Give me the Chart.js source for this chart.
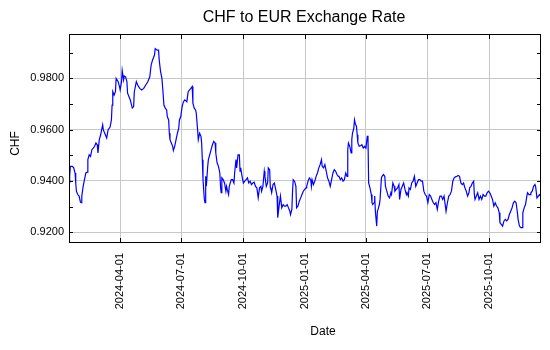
<!DOCTYPE html>
<html>
<head>
<meta charset="utf-8">
<title>CHF to EUR Exchange Rate</title>
<script src="https://cdn.jsdelivr.net/npm/chart.js@4.4.1/dist/chart.umd.min.js"></script>
<style>
  html, body { margin: 0; padding: 0; background: #ffffff; }
  #wrap { width: 550px; height: 350px; }
</style>
</head>
<body>
<div id="wrap"><canvas id="rate-chart" width="550" height="350"></canvas></div>
<script>
// CHF -> EUR rate, sampled every couple of days
const days2024 = [
    '01-16', '01-17', '01-18', '01-21', '01-23', '01-25', '01-26', '01-27', '01-29', '01-31',
    '02-02', '02-03', '02-04', '02-06', '02-08', '02-10', '02-12', '02-13', '02-15', '02-17',
    '02-19', '02-21', '02-23', '02-25', '02-27', '02-28', '03-01', '03-03', '03-05', '03-06',
    '03-07', '03-10', '03-12', '03-14', '03-17', '03-19', '03-20', '03-21', '03-23', '03-25',
    '03-26', '03-29', '03-31', '04-01', '04-03', '04-04', '04-06', '04-07', '04-09', '04-11',
    '04-12', '04-14', '04-16', '04-19', '04-21', '04-22', '04-25', '04-27', '04-30', '05-03',
    '05-06', '05-09', '05-12', '05-15', '05-17', '05-19', '05-22', '05-23', '05-26', '05-28',
    '05-29', '05-31', '06-02', '06-03', '06-05', '06-07', '06-09', '06-10', '06-12', '06-13',
    '06-14', '06-16', '06-18', '06-19', '06-21', '06-23', '06-25', '06-27', '06-28', '06-30',
    '07-02', '07-04', '07-06', '07-09', '07-11', '07-13', '07-15', '07-17', '07-18', '07-20',
    '07-22', '07-23', '07-25', '07-26', '07-28', '07-30', '07-31', '08-01', '08-02', '08-03',
    '08-04', '08-05', '08-06', '08-07', '08-09', '08-10', '08-12', '08-14', '08-16', '08-18',
    '08-20', '08-21', '08-23', '08-25', '08-27', '08-28', '08-29', '08-30', '09-01', '09-03',
    '09-05', '09-06', '09-07', '09-09', '09-10', '09-13', '09-15', '09-17', '09-18', '09-20',
    '09-21', '09-23', '09-25', '09-26', '09-27', '09-29', '10-01', '10-03', '10-05', '10-07',
    '10-09', '10-11', '10-13', '10-15', '10-17', '10-19', '10-21', '10-23', '10-25', '10-27',
    '10-28', '10-30', '11-01', '11-02', '11-04', '11-06', '11-07', '11-09', '11-10', '11-11',
    '11-12', '11-14', '11-16', '11-18', '11-20', '11-21', '11-23', '11-25', '11-27', '11-29',
    '12-01', '12-03', '12-05', '12-07', '12-09', '12-10', '12-12', '12-13', '12-14', '12-16',
    '12-18', '12-19', '12-21', '12-23', '12-25', '12-27', '12-29', '12-31'
];
const rates2024 = [
    0.9392, 0.9418, 0.9457, 0.9457, 0.9451, 0.9431, 0.9392, 0.9360, 0.9347, 0.9341,
    0.9317, 0.9315, 0.9341, 0.9379, 0.9405, 0.9431, 0.9434, 0.9483, 0.9502, 0.9496,
    0.9522, 0.9528, 0.9535, 0.9548, 0.9541, 0.9509, 0.9561, 0.9580, 0.9606, 0.9619,
    0.9599, 0.9580, 0.9567, 0.9599, 0.9610, 0.9638, 0.9696, 0.9748, 0.9735, 0.9748,
    0.9800, 0.9787, 0.9768, 0.9755, 0.9787, 0.9830, 0.9794, 0.9809, 0.9806, 0.9787,
    0.9742, 0.9729, 0.9716, 0.9684, 0.9690, 0.9748, 0.9787, 0.9774, 0.9761, 0.9755,
    0.9761, 0.9774, 0.9787, 0.9806, 0.9852, 0.9871, 0.9891, 0.9916, 0.9910, 0.9910,
    0.9871, 0.9826, 0.9800, 0.9768, 0.9696, 0.9684, 0.9677, 0.9651, 0.9638, 0.9586,
    0.9561, 0.9548, 0.9535, 0.9519, 0.9535, 0.9561, 0.9586, 0.9606, 0.9638, 0.9651,
    0.9690, 0.9709, 0.9716, 0.9709, 0.9748, 0.9755, 0.9761, 0.9768, 0.9703, 0.9684,
    0.9677, 0.9664, 0.9599, 0.9561, 0.9586, 0.9574, 0.9548, 0.9483, 0.9405, 0.9367,
    0.9328, 0.9315, 0.9418, 0.9379, 0.9457, 0.9483, 0.9502, 0.9522, 0.9541, 0.9554,
    0.9548, 0.9509, 0.9470, 0.9457, 0.9431, 0.9379, 0.9354, 0.9412, 0.9405, 0.9392,
    0.9360, 0.9379, 0.9367, 0.9347, 0.9379, 0.9405, 0.9405, 0.9392, 0.9431, 0.9483,
    0.9451, 0.9502, 0.9502, 0.9438, 0.9451, 0.9418, 0.9392, 0.9399, 0.9405, 0.9412,
    0.9392, 0.9399, 0.9386, 0.9392, 0.9395, 0.9379, 0.9373, 0.9334, 0.9373, 0.9379,
    0.9360, 0.9379, 0.9438, 0.9418, 0.9379, 0.9392, 0.9451, 0.9444, 0.9373, 0.9367,
    0.9354, 0.9386, 0.9392, 0.9367, 0.9341, 0.9257, 0.9302, 0.9341, 0.9295, 0.9308,
    0.9302, 0.9302, 0.9308, 0.9295, 0.9282, 0.9269, 0.9289, 0.9360, 0.9405, 0.9399,
    0.9379, 0.9295, 0.9302, 0.9321, 0.9334, 0.9347, 0.9360, 0.9367
];
const days2025 = [
    '01-02', '01-03', '01-05', '01-07', '01-09', '01-10', '01-11', '01-13', '01-15', '01-17',
    '01-19', '01-21', '01-23', '01-25', '01-26', '01-28', '01-30', '02-01', '02-03', '02-05',
    '02-07', '02-09', '02-11', '02-13', '02-15', '02-17', '02-19', '02-20', '02-22', '02-24',
    '02-26', '02-28', '03-02', '03-04', '03-05', '03-06', '03-08', '03-10', '03-11', '03-12',
    '03-14', '03-15', '03-16', '03-18', '03-19', '03-20', '03-22', '03-24', '03-26', '03-28',
    '03-30', '04-01', '04-03', '04-04', '04-05', '04-07', '04-09', '04-10', '04-11', '04-13',
    '04-14', '04-15', '04-17', '04-18', '04-19', '04-21', '04-22', '04-24', '04-25', '04-27',
    '04-29', '04-30', '05-02', '05-04', '05-06', '05-08', '05-09', '05-11', '05-13', '05-14',
    '05-16', '05-18', '05-20', '05-21', '05-23', '05-25', '05-27', '05-29', '05-31', '06-01',
    '06-03', '06-04', '06-06', '06-08', '06-10', '06-12', '06-14', '06-16', '06-18', '06-20',
    '06-22', '06-24', '06-26', '06-28', '06-30', '07-02', '07-04', '07-06', '07-08', '07-10',
    '07-12', '07-14', '07-16', '07-18', '07-20', '07-22', '07-24', '07-26', '07-28', '07-29',
    '07-31', '08-02', '08-04', '08-06', '08-08', '08-10', '08-12', '08-14', '08-16', '08-18',
    '08-20', '08-22', '08-24', '08-26', '08-28', '08-30', '09-01', '09-02', '09-04', '09-06',
    '09-08', '09-09', '09-10', '09-12', '09-14', '09-16', '09-18', '09-20', '09-22', '09-24',
    '09-26', '09-28', '09-30', '10-02', '10-04', '10-06', '10-08', '10-10', '10-12', '10-14',
    '10-16', '10-17', '10-19', '10-21', '10-23', '10-25', '10-27', '10-29', '10-31', '11-02',
    '11-04', '11-06', '11-08', '11-10', '11-12', '11-13', '11-15', '11-17', '11-19', '11-20',
    '11-22', '11-24', '11-26', '11-27', '11-29', '12-01', '12-02', '12-04', '12-06', '12-08',
    '12-09', '12-11', '12-13', '12-15', '12-16'
];
const rates2025 = [
    0.9373, 0.9379, 0.9399, 0.9412, 0.9405, 0.9379, 0.9405, 0.9386, 0.9399, 0.9418,
    0.9431, 0.9451, 0.9464, 0.9483, 0.9457, 0.9451, 0.9464, 0.9438, 0.9412, 0.9399,
    0.9379, 0.9405, 0.9431, 0.9444, 0.9438, 0.9425, 0.9418, 0.9418, 0.9405, 0.9412,
    0.9399, 0.9405, 0.9431, 0.9418, 0.9522, 0.9548, 0.9535, 0.9509, 0.9561, 0.9586,
    0.9606, 0.9638, 0.9625, 0.9612, 0.9580, 0.9548, 0.9535, 0.9537, 0.9541, 0.9528,
    0.9535, 0.9528, 0.9574, 0.9576, 0.9392, 0.9373, 0.9347, 0.9315, 0.9308, 0.9315,
    0.9341, 0.9282, 0.9224, 0.9282, 0.9289, 0.9308, 0.9328, 0.9412, 0.9418, 0.9425,
    0.9418, 0.9379, 0.9360, 0.9341, 0.9334, 0.9354, 0.9347, 0.9392, 0.9379, 0.9360,
    0.9367, 0.9373, 0.9386, 0.9328, 0.9367, 0.9379, 0.9392, 0.9367, 0.9347, 0.9354,
    0.9341, 0.9373, 0.9367, 0.9392, 0.9399, 0.9418, 0.9379, 0.9392, 0.9405, 0.9405,
    0.9399, 0.9399, 0.9360, 0.9347, 0.9341, 0.9315, 0.9347, 0.9341, 0.9328, 0.9315,
    0.9308, 0.9315, 0.9289, 0.9321, 0.9341, 0.9341, 0.9328, 0.9341, 0.9302, 0.9282,
    0.9315, 0.9341, 0.9347, 0.9360, 0.9399, 0.9412, 0.9416, 0.9418, 0.9421, 0.9418,
    0.9392, 0.9386, 0.9392, 0.9373, 0.9360, 0.9341, 0.9354, 0.9373, 0.9379, 0.9392,
    0.9399, 0.9347, 0.9328, 0.9341, 0.9354, 0.9328, 0.9341, 0.9328, 0.9347, 0.9341,
    0.9341, 0.9354, 0.9360, 0.9354, 0.9341, 0.9328, 0.9302, 0.9315, 0.9302, 0.9295,
    0.9276, 0.9237, 0.9231, 0.9224, 0.9244, 0.9250, 0.9244, 0.9250, 0.9269, 0.9282,
    0.9295, 0.9315, 0.9321, 0.9315, 0.9276, 0.9250, 0.9224, 0.9218, 0.9218, 0.9276,
    0.9295, 0.9308, 0.9341, 0.9354, 0.9347, 0.9347, 0.9354, 0.9360, 0.9379, 0.9386,
    0.9379, 0.9334, 0.9341, 0.9347, 0.9341
];

// axis setup
const dateTicks = ['2024-04-01', '2024-07-01', '2024-10-01', '2025-01-01', '2025-04-01', '2025-07-01', '2025-10-01'];
const dateRange = ['2024-01-16', '2025-12-17'];
const rateTicks = [0.92, 0.94, 0.96, 0.98];
const rateMinorTicks = [0.92, 0.93, 0.94, 0.95, 0.96, 0.97, 0.98, 0.99];
const rateRange = [0.9158, 0.9973];

const FONT = "'Liberation Sans', Arial, sans-serif";
const GRID = '#c6c9c6';

const points = [];
days2024.forEach((d, i) => points.push({ x: Date.parse('2024-' + d), y: rates2024[i] }));
days2025.forEach((d, i) => points.push({ x: Date.parse('2025-' + d), y: rates2025[i] }));

// box round the plot, inward tick marks and the three text labels
const framePlugin = {
    id: 'frame',
    afterDatasetsDraw(chart) {
        const { ctx, chartArea: a, scales } = chart;
        ctx.save();
        ctx.strokeStyle = '#000';
        ctx.lineWidth = 1;
        ctx.strokeRect(a.left + 0.5, a.top + 0.5, a.right - a.left - 1, a.bottom - a.top - 1);

        ctx.beginPath();
        dateTicks.forEach(d => {
            const x = Math.round(scales.x.getPixelForValue(Date.parse(d))) + 0.5;
            ctx.moveTo(x, a.bottom);
            ctx.lineTo(x, a.bottom - 5);
            ctx.moveTo(x, a.top);
            ctx.lineTo(x, a.top + 5);
        });
        rateMinorTicks.forEach(v => {
            const y = Math.round(scales.y.getPixelForValue(v)) + 0.5;
            ctx.moveTo(a.left, y);
            ctx.lineTo(a.left + 4, y);
            ctx.moveTo(a.right, y);
            ctx.lineTo(a.right - 4, y);
        });
        ctx.stroke();
        ctx.restore();
    },
    afterDraw(chart) {
        const { ctx, chartArea: a } = chart;
        const mid = (a.left + a.right) / 2;
        ctx.save();
        ctx.fillStyle = '#000';
        ctx.textAlign = 'center';
        ctx.textBaseline = 'middle';

        ctx.font = '16px ' + FONT;
        ctx.fillText('CHF to EUR Exchange Rate', mid - 1, 18);

        ctx.font = '12px ' + FONT;
        ctx.fillText('Date', mid + 18, 332);

        ctx.translate(16, (a.top + a.bottom) / 2 + 5);
        ctx.rotate(-Math.PI / 2);
        ctx.fillText('CHF', 0, 0);
        ctx.restore();
    }
};

new Chart(document.getElementById('rate-chart'), {
    type: 'line',
    data: {
        datasets: [{
            label: 'CHF to EUR',
            data: points,
            borderColor: '#0000ff',
            borderWidth: 1.2,
            pointRadius: 0,
            tension: 0,
            fill: false
        }]
    },
    options: {
        responsive: false,
        animation: false,
        devicePixelRatio: 1,
        layout: { padding: { top: 34, right: 9, left: 0, bottom: 0 } },
        plugins: {
            legend: { display: false },
            tooltip: { enabled: false },
            title: { display: false }
        },
        scales: {
            x: {
                type: 'linear',
                min: Date.parse(dateRange[0]),
                max: Date.parse(dateRange[1]),
                afterBuildTicks: s => { s.ticks = dateTicks.map(d => ({ value: Date.parse(d) })); },
                afterFit: s => { s.height = 107; },
                border: { display: false },
                grid: { color: GRID, lineWidth: 1, drawTicks: false },
                ticks: {
                    autoSkip: false,
                    minRotation: 90,
                    maxRotation: 90,
                    padding: 10,
                    color: '#000',
                    font: { family: FONT, size: 11 },
                    callback: v => new Date(v).toISOString().slice(0, 10)
                }
            },
            y: {
                type: 'linear',
                min: rateRange[0],
                max: rateRange[1],
                afterBuildTicks: s => { s.ticks = rateTicks.map(v => ({ value: v })); },
                afterFit: s => { s.width = 69; },
                border: { display: false },
                grid: { color: GRID, lineWidth: 1, drawTicks: false },
                ticks: {
                    padding: 5,
                    color: '#000',
                    font: { family: FONT, size: 11 },
                    callback: v => v.toFixed(4)
                }
            }
        }
    },
    plugins: [framePlugin]
});
</script>
</body>
</html>
